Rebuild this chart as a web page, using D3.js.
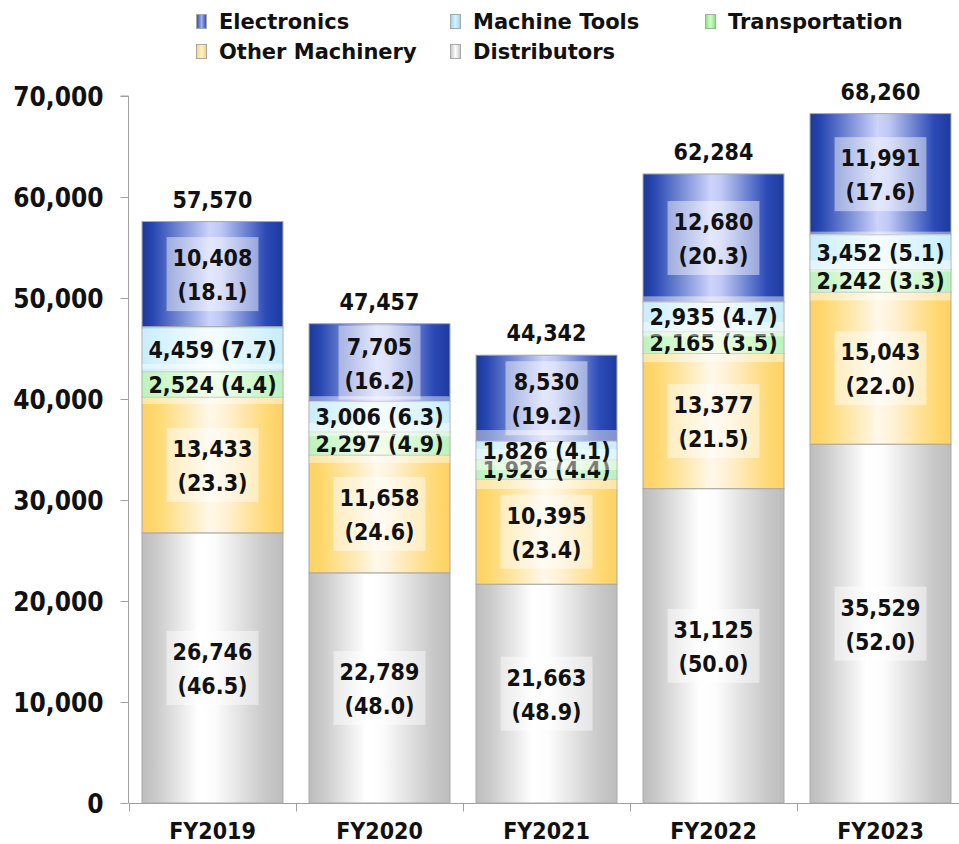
<!DOCTYPE html>
<html>
<head>
<meta charset="utf-8">
<script src="https://cdn.jsdelivr.net/npm/d3@7"></script>
<style>
  html, body { margin: 0; padding: 0; background: #fff; }
  svg { display: block; }
  .num { font-family: "DejaVu Sans Condensed", "DejaVu Sans", sans-serif; font-stretch: condensed; font-weight: bold; fill: #111; }
  .legend text { font-family: "DejaVu Sans", Verdana, sans-serif; font-weight: bold; font-size: 21px; fill: #111; }
</style>
</head>
<body>
<svg id="chart" width="959" height="844"></svg>
<script>
// Fiscal years on the category axis
const categories = ["FY2019", "FY2020", "FY2021", "FY2022", "FY2023"];

// Sales by customer segment
const distributors   = [26746, 22789, 21663, 31125, 35529];
const otherMachinery = [13433, 11658, 10395, 13377, 15043];
const transportation = [2524, 2297, 1926, 2165, 2242];
const machineTools   = [4459, 3006, 1826, 2935, 3452];
const electronics    = [10408, 7705, 8530, 12680, 11991];

// Share of the year's total, in percent
const distributorsPct   = [46.5, 48.0, 48.9, 50.0, 52.0];
const otherMachineryPct = [23.3, 24.6, 23.4, 21.5, 22.0];
const transportationPct = [4.4, 4.9, 4.4, 3.5, 3.3];
const machineToolsPct   = [7.7, 6.3, 4.1, 4.7, 5.1];
const electronicsPct    = [18.1, 16.2, 19.2, 20.3, 17.6];

// Reported yearly totals
const totals = [57570, 47457, 44342, 62284, 68260];

// Value axis ticks
const yTicks = [0, 10000, 20000, 30000, 40000, 50000, 60000, 70000];

// Stack order, bottom to top
const series = [
  { key: "distributors",   name: "Distributors",    values: distributors,   pct: distributorsPct,   twoLine: true },
  { key: "otherMachinery", name: "Other Machinery", values: otherMachinery, pct: otherMachineryPct, twoLine: true },
  { key: "transportation", name: "Transportation",  values: transportation, pct: transportationPct, twoLine: false },
  { key: "machineTools",   name: "Machine Tools",   values: machineTools,   pct: machineToolsPct,   twoLine: false },
  { key: "electronics",    name: "Electronics",     values: electronics,    pct: electronicsPct,    twoLine: true }
];

// Legend layout order (two rows)
const legendOrder = ["electronics", "machineTools", "transportation", "otherMachinery", "distributors"];

// Horizontal shading of each segment: dark edges, light middle
const shading = {
  electronics:    [[0, "#1b389a"], [0.08, "#2848b2"], [0.48, "#cdd4fb"], [0.56, "#bfc8f4"], [0.88, "#2b4ab6"], [1, "#1d3a9e"]],
  machineTools:   [[0, "#9edcf8"], [0.1, "#aee6fc"], [0.48, "#effbff"], [0.56, "#e6f8ff"], [0.88, "#ade6fc"], [1, "#9cdcf8"]],
  transportation: [[0, "#86e886"], [0.1, "#98f094"], [0.48, "#eaffd8"], [0.56, "#e0fcd0"], [0.88, "#98f094"], [1, "#86e886"]],
  otherMachinery: [[0, "#fdd165"], [0.1, "#ffd86f"], [0.48, "#fff8ea"], [0.58, "#fff2d8"], [0.9, "#ffd870"], [1, "#fdd165"]],
  distributors:   [[0, "#bdbdbd"], [0.1, "#cacaca"], [0.4, "#ffffff"], [0.52, "#fcfcfc"], [0.88, "#c8c8c8"], [1, "#bdbdbd"]]
};

// Legend keys: narrower swatches, so the light band is kept thin
const swatchShading = {
  electronics:    [[0, "#2a48b0"], [0.5, "#9fb0ee"], [1, "#2a48b0"]],
  machineTools:   [[0, "#8fd6f6"], [0.5, "#d8f4ff"], [1, "#8fd6f6"]],
  transportation: [[0, "#7ee47e"], [0.5, "#d6fcc6"], [1, "#7ee47e"]],
  otherMachinery: [[0, "#fcd062"], [0.5, "#fff2d4"], [1, "#fcd062"]],
  distributors:   [[0, "#c4c4c4"], [0.5, "#ffffff"], [1, "#c4c4c4"]]
};

const svg = d3.select("#chart");
const defs = svg.append("defs");

function addGradient(id, stops) {
  const g = defs.append("linearGradient")
    .attr("id", id)
    .attr("x1", "0").attr("y1", "0").attr("x2", "1").attr("y2", "0");
  stops.forEach(([o, c]) => g.append("stop").attr("offset", o).attr("stop-color", c));
}
Object.entries(shading).forEach(([key, stops]) => addGradient("grad-" + key, stops));
Object.entries(swatchShading).forEach(([key, stops]) => addGradient("swatch-" + key, stops));

const x = d3.scaleBand()
  .domain(categories)
  .range([129, 964])
  .paddingInner(0.156)
  .paddingOuter(0.078);

const y = d3.scaleLinear()
  .domain([0, 70000])
  .range([803, 96]);

// Rows for d3.stack
const rows = categories.map((c, i) => {
  const r = { category: c, index: i };
  series.forEach(s => { r[s.key] = s.values[i]; });
  return r;
});

const stacked = d3.stack().keys(series.map(s => s.key))(rows);

const axisColor = "#a0a0a0";

// Value axis
const yAxis = svg.append("g")
  .attr("transform", "translate(128.5,0)")
  .call(d3.axisLeft(y).tickValues(yTicks).tickSize(8).tickPadding(17).tickFormat(d3.format(",")));
yAxis.select(".domain").attr("stroke", axisColor).attr("d", `M-8,${y(70000)}H0V${y(0)}`);
yAxis.selectAll(".tick line").attr("stroke", axisColor);
yAxis.selectAll(".tick text")
  .attr("class", "num")
  .style("font-size", "26px")
  .attr("dy", "0.36em");

// Category axis
const xAxis = svg.append("g")
  .attr("transform", `translate(0,${y(0) + 0.5})`)
  .call(d3.axisBottom(x).tickSize(0).tickPadding(19));
xAxis.select(".domain").attr("stroke", axisColor).attr("d", `M128.5,0H959`);
xAxis.selectAll(".tick text")
  .attr("class", "num")
  .style("font-size", "23px");

// Boundary ticks between categories
const step = x.step();
const boundaries = categories.map(c => x(c) - x.paddingOuter() * step).concat([x(categories[categories.length - 1]) + x.bandwidth() + x.paddingOuter() * step]);
xAxis.selectAll("line.boundary")
  .data(boundaries)
  .join("line")
  .attr("class", "boundary")
  .attr("x1", d => Math.round(d) + 0.5).attr("x2", d => Math.round(d) + 0.5)
  .attr("y1", 0).attr("y2", 8)
  .attr("stroke", axisColor);

// Bar segments
const layers = svg.append("g").selectAll("g.layer")
  .data(stacked)
  .join("g")
  .attr("class", "layer")
  .attr("fill", d => `url(#grad-${d.key})`);

layers.selectAll("rect")
  .data(d => d)
  .join("rect")
  .attr("x", d => x(d.data.category))
  .attr("width", x.bandwidth())
  .attr("y", d => y(d[1]))
  .attr("height", d => y(d[0]) - y(d[1]))
  .attr("stroke", "#a8a8a8")
  .attr("stroke-width", 1);

// Segment labels: value and share
const fmt = d3.format(",");
const pctFmt = d3.format(".1f");
const labelLayer = svg.append("g");

stacked.forEach((layer, li) => {
  const s = series[li];
  layer.forEach((d, i) => {
    const cx = x(d.data.category) + x.bandwidth() / 2;
    const cy = (y(d[0]) + y(d[1])) / 2;
    const lines = s.twoLine
      ? [fmt(s.values[i]), `(${pctFmt(s.pct[i])})`]
      : [`${fmt(s.values[i])} (${pctFmt(s.pct[i])})`];
    const baselines = s.twoLine ? [cy - 8, cy + 26] : [cy + 8.5];
    const g = labelLayer.append("g");
    const box = g.append("rect").attr("fill", "#ffffff").attr("fill-opacity", 0.45);
    const texts = lines.map((t, k) => g.append("text")
      .attr("class", "num")
      .style("font-size", "23px")
      .attr("text-anchor", "middle")
      .attr("x", cx)
      .attr("y", baselines[k])
      .text(t));
    const w = d3.max(texts, t => t.node().getComputedTextLength()) + 12;
    const top = baselines[0] - 29;
    const bottom = baselines[baselines.length - 1] + 11;
    box.attr("x", cx - w / 2).attr("width", w).attr("y", top).attr("height", bottom - top);
  });
});

// Totals above the bars
svg.append("g").selectAll("text")
  .data(categories)
  .join("text")
  .attr("class", "num")
  .style("font-size", "23px")
  .attr("text-anchor", "middle")
  .attr("x", c => x(c) + x.bandwidth() / 2)
  .attr("y", (c, i) => y(totals[i]) - 14)
  .text((c, i) => fmt(totals[i]));

// Legend
const legendCols = [196, 450, 705];
const legendRows = [29, 59];
const legend = svg.append("g").attr("class", "legend");
legendOrder.forEach((key, i) => {
  const s = series.find(d => d.key === key);
  const col = i % 3, row = Math.floor(i / 3);
  const g = legend.append("g").attr("transform", `translate(${legendCols[col]},${legendRows[row]})`);
  g.append("rect")
    .attr("x", 0.5).attr("y", -14.5)
    .attr("width", 10).attr("height", 14)
    .attr("fill", `url(#swatch-${key})`)
    .attr("stroke", "#a8a8a8");
  g.append("text").attr("x", 23).attr("y", 0).text(s.name);
});
</script>
</body>
</html>
